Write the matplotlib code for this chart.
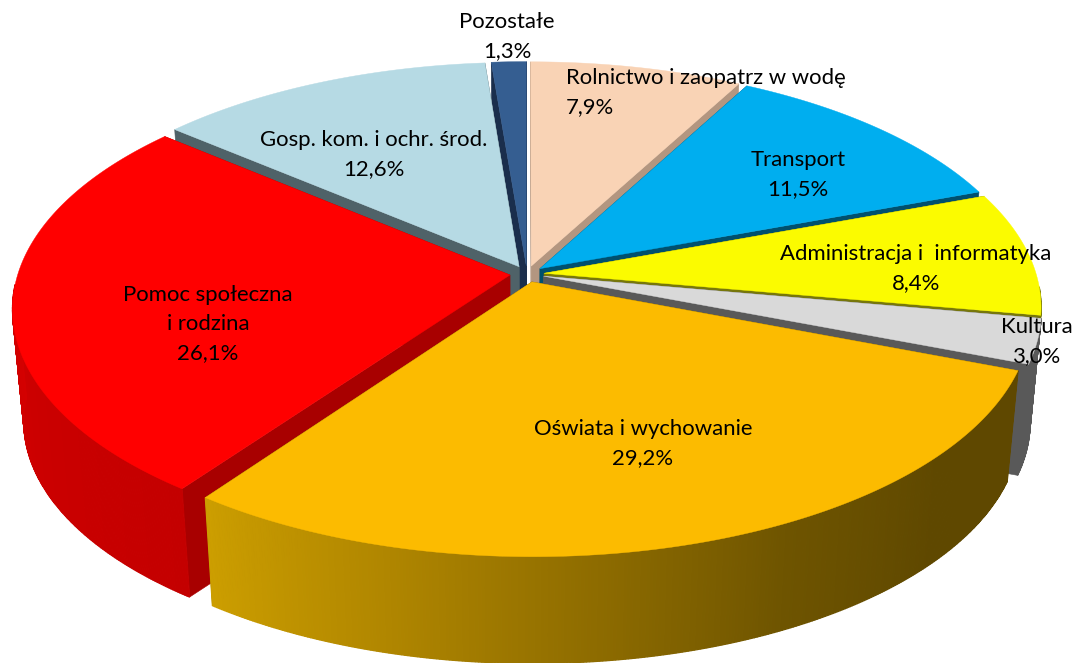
import numpy as np
from matplotlib import pyplot as plt
from matplotlib.colors import to_rgb
from matplotlib.patches import Polygon

plt.rcParams['font.family'] = ['Lato', 'DejaVu Sans']

names = ['Rolnictwo i zaopatrz w wodę', 'Transport', 'Administracja i  informatyka', 'Kultura',
         'Oświata i wychowanie', 'Pomoc społeczna\ni rodzina', 'Gosp. kom. i ochr. środ.', 'Pozostałe']
shares = [7.9, 11.5, 8.4, 3.0, 29.2, 26.1, 12.6, 1.3]

top_colors = ['#f9d3b5', '#00aeef', '#fbfb00', '#d9d9d9', '#fcbb00', '#ff0000', '#b6dae4', '#355e91']
wall_colors = ['#b39680', '#00506e', '#77770a', '#595959', '#7a5c00', '#a80000', '#4f6268', '#1a2e4c']
side_stops = {4: ['#5f4800', '#5f4800', '#6e5400', '#8e6c00', '#b08600', '#cc9e00'],
              5: ['#c40000', '#cc0000', '#d80000', '#e00000']}

# drawing order, back to front
order = [7, 6, 0, 1, 2, 3, 5, 4]

label_pos = [(566, 78, 'left'), (798, 160, 'center'), (916, 254, 'center'), (1037, 327, 'center'),
             (643, 429, 'center'), (208, 295, 'center'), (374, 140, 'center'), (507, 22, 'center')]

cx, cy = 527, 274
R, H, k = 492, 234.5, 0.138
explode = 0.035
depth, shrink = 113, 0.978


def top_xy(u, v):
    w = 1 + k * v
    return cx + R * u / w, cy - H * v / w


def low_xy(u, v):
    x, y = top_xy(u, v)
    return cx + (x - cx) * shrink, cy + (y - cy) * shrink + depth


def mix(stops, f):
    rgb = np.array([to_rgb(c) for c in stops])
    pos = np.linspace(0, 1, len(stops))
    return tuple(np.interp(f, pos, rgb[:, i]) for i in range(3))


def draw_slice(ax, i, a0, a1, z):
    mid = (a0 + a1) / 2
    ou, ov = explode * np.sin(mid), explode * np.cos(mid)
    t = np.linspace(a0, a1, max(int(np.degrees(a1 - a0)) * 3, 12))
    us, vs = ou + np.sin(t), ov + np.cos(t)

    for a in (a0, a1):
        eu, ev = ou + np.sin(a), ov + np.cos(a)
        pts = [top_xy(ou, ov), top_xy(eu, ev), low_xy(eu, ev), low_xy(ou, ov)]
        ax.add_patch(Polygon(pts, fc=wall_colors[i], ec=wall_colors[i], lw=0.4, zorder=z))

    for j in range(len(t) - 1):
        # back part of the rim can't be seen
        if vs[j] > -0.05:
            continue
        f = j / (len(t) - 2)
        color = mix(side_stops[i], f) if i in side_stops else wall_colors[i]
        pts = [top_xy(us[j], vs[j]), top_xy(us[j + 1], vs[j + 1]),
               low_xy(us[j + 1], vs[j + 1]), low_xy(us[j], vs[j])]
        ax.add_patch(Polygon(pts, fc=color, ec=color, lw=0.9, zorder=z))

    outline = [top_xy(ou, ov)] + [top_xy(a, b) for a, b in zip(us, vs)]
    ax.add_patch(Polygon(outline, fc=top_colors[i], ec=top_colors[i], lw=0.3, zorder=z + 0.5))


fig = plt.figure(figsize=(10.75, 6.63), dpi=100)
ax = fig.add_axes([0, 0, 1, 1])
ax.set_xlim(0, 1075)
ax.set_ylim(663, 0)
ax.axis('off')

edges = np.radians(np.cumsum([0] + shares) / sum(shares) * 360)
for z, i in enumerate(order):
    draw_slice(ax, i, edges[i], edges[i + 1], z + 1)

for name, val, (x, y, ha) in zip(names, shares, label_pos):
    pct = f'{val:.1f}'.replace('.', ',') + '%'
    for n, line in enumerate(name.split('\n') + [pct]):
        ax.text(x, y + n * 29, line, fontsize=15.9, ha=ha, va='center', color='black', zorder=20)

fig.savefig('out.png', dpi=100)
